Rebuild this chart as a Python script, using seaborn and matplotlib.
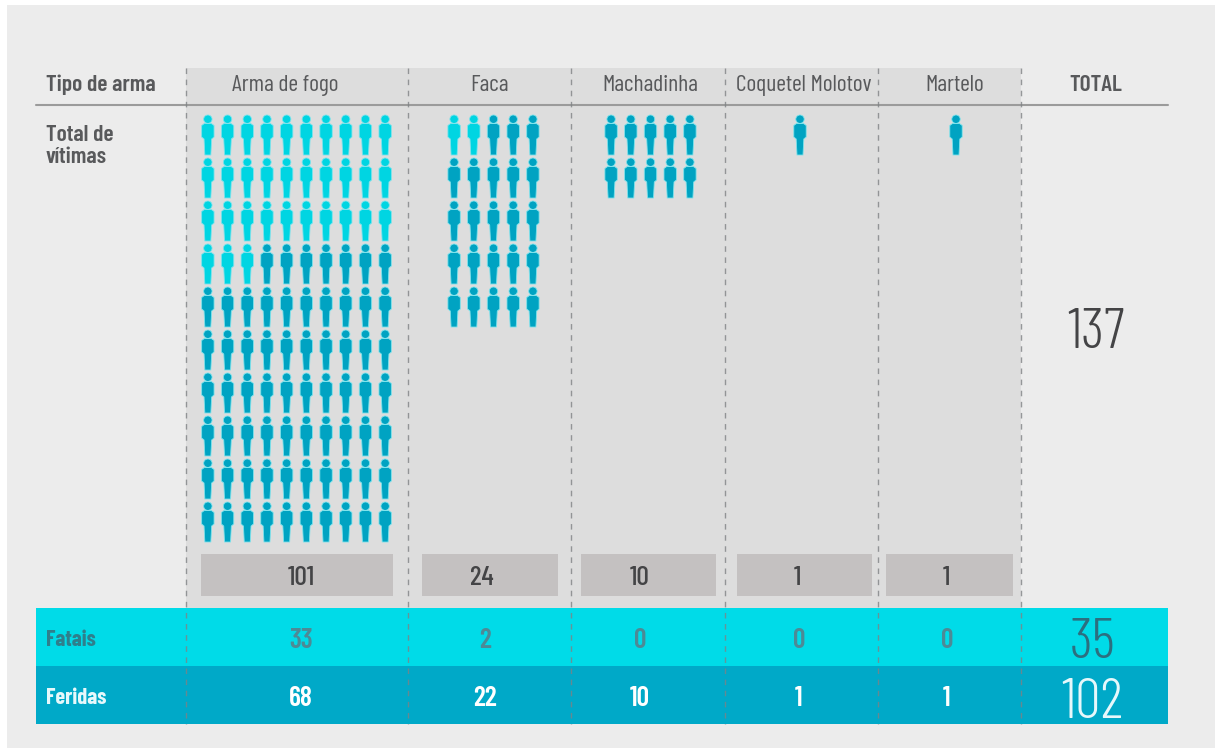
import matplotlib
matplotlib.use('Agg')
import matplotlib.pyplot as plt
from matplotlib.patches import Rectangle
from matplotlib.path import Path
import pandas as pd
import seaborn as sns

# chart values
armas = ['Arma de fogo', 'Faca', 'Machadinha', 'Coquetel Molotov', 'Martelo']
vitimas = [101, 24, 10, 1, 1]
fatais = [33, 2, 0, 0, 0]
feridas = [68, 22, 10, 1, 1]
total_vitimas = 137
total_fatais = 35
total_feridas = 102
# the pictogram is rounded: 100 and 25 figures for 101 and 24 victims
icones = [100, 25, 10, 1, 1]

# layout in pixels of the 1216x748 picture
por_linha = [10, 5, 5, 1, 1]
centro_icones = [296.5, 493.5, 650.5, 800, 956]
x_titulo = [285, 489, 650, 804, 955]
x_num = [301, 482, 640, 797, 946]
x_banda = [301, 485, 640, 799, 947]
divisores = [186, 408, 571, 725, 878, 1021]
caixas = [(201, 393), (422, 558), (581, 716), (737, 872), (886, 1013)]
passo_x = 19.7
passo_y = 43
y_icone0 = 135

COR_FATAL = '#00d5e2'
COR_FERIDA = '#00a3c2'
TEXTO = '#58595b'

sns.set_theme(style='white')
plt.rcParams['font.family'] = ['Barlow Condensed', 'Roboto', 'DejaVu Sans']

# person icon, head plus body
cabeca = Path.circle((0, 15.8), 4.2)
corpo = Path([(-3.5, 11.5), (3.5, 11.5), (6.2, 9.5), (6.2, -2), (3.8, -4), (3, -20), (-3, -20), (-3.8, -4), (-6.2, -2), (-6.2, 9.5), (-3.5, 11.5)])
pessoa = Path.make_compound_path(cabeca, corpo)

# one row per figure, the fatal ones come first
linhas = []
for i, arma in enumerate(armas):
    n = por_linha[i]
    x0 = centro_icones[i] - (n - 1) * passo_x / 2
    for k in range(icones[i]):
        linhas.append({
            'arma': arma,
            'x': x0 + (k % n) * passo_x,
            'y': y_icone0 + (k // n) * passo_y,
            'estado': 'Fatais' if k < fatais[i] else 'Feridas',
        })
df = pd.DataFrame(linhas)

fig, ax = plt.subplots(figsize=(12.16, 7.48), dpi=100)
fig.patch.set_facecolor('white')
ax.set_position([0, 0, 1, 1])

sns.scatterplot(data=df, x='x', y='y', hue='estado', palette={'Fatais': COR_FATAL, 'Feridas': COR_FERIDA},
                marker=pessoa, s=830, linewidth=0.6, edgecolor='#7fe3ec', legend=False, ax=ax, zorder=4)
ax.set_xlim(0, 1216)
ax.set_ylim(748, 0)
ax.axis('off')

ax.add_patch(Rectangle((7, 5), 1208, 743, color='#ececec', lw=0, zorder=0))
ax.add_patch(Rectangle((divisores[0], 68), divisores[-1] - divisores[0], 540, color='#dddddd', lw=0, zorder=1))
for a, b in caixas:
    ax.add_patch(Rectangle((a, 554), b - a, 42, color='#c4c1c1', lw=0, zorder=2))
ax.add_patch(Rectangle((36, 608), 1132, 58, color='#00dbe8', lw=0, zorder=2))
ax.add_patch(Rectangle((36, 666), 1132, 58, color='#00a9c8', lw=0, zorder=2))

ax.plot([36, 1168], [105, 105], color='#9b9b9b', lw=1.5, zorder=3)
for x in divisores:
    ax.plot([x, x], [68, 724], color='#7f8285', lw=1, ls=(0, (4, 4)), alpha=0.8, zorder=3)

# header and left labels
ax.text(46, 85, 'Tipo de arma', fontsize=17, fontweight=600, color=TEXTO, va='center', zorder=5)
ax.text(46, 146, 'Total de\nvítimas', fontsize=17, fontweight=600, color=TEXTO, va='center', linespacing=1.1, zorder=5)
ax.text(1096, 85, 'TOTAL', fontsize=17, fontweight=600, color=TEXTO, ha='center', va='center', zorder=5)
for i, arma in enumerate(armas):
    ax.text(x_titulo[i], 85, arma, fontsize=17, fontweight=400, color=TEXTO, ha='center', va='center', zorder=5)
    ax.text(x_num[i], 578, str(vitimas[i]), fontsize=20, fontweight=500, color='#444446', ha='center', va='center', zorder=5)
    ax.text(x_banda[i], 641, str(fatais[i]), fontsize=20, fontweight=600, color='#4d8a96', ha='center', va='center', zorder=5)
    ax.text(x_banda[i], 699, str(feridas[i]), fontsize=20, fontweight=600, color='white', ha='center', va='center', zorder=5)

ax.text(46, 640, 'Fatais', fontsize=16, fontweight=700, color='#2f7f8c', va='center', zorder=5)
ax.text(46, 698, 'Feridas', fontsize=16, fontweight=700, color='#e6f8fb', va='center', zorder=5)

# big thin totals
ax.text(1096, 333, str(total_vitimas), fontsize=41, fontweight=300, color='#444446', ha='center', va='center', zorder=5)
ax.text(1093, 644, str(total_fatais), fontsize=41, fontweight=300, color='#2c6f80', ha='center', va='center', zorder=5)
ax.text(1092, 703, str(total_feridas), fontsize=41, fontweight=300, color='#e6f8fb', ha='center', va='center', zorder=5)

fig.savefig('out.png', dpi=100, facecolor='white')
